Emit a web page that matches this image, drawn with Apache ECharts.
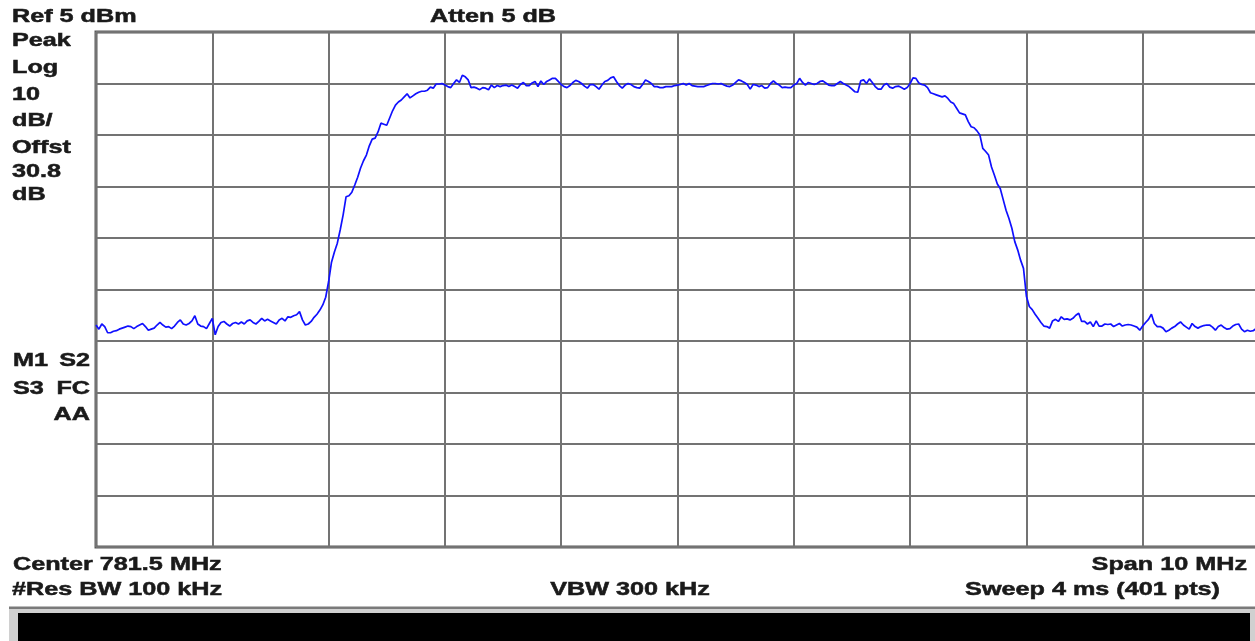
<!DOCTYPE html>
<html>
<head>
<meta charset="utf-8">
<script src="https://cdn.jsdelivr.net/npm/echarts@6/dist/echarts.min.js"></script>
<style>
html,body{margin:0;padding:0;background:#fff;}
#chart{width:1255px;height:641px;}
</style>
</head>
<body>
<div id="chart"></div>
<script>
// ---- instrument settings ----
const refLevelDbm = 5;
const dbPerDiv = 10;
const divisions = 10;
const centerMHz = 781.5;
const spanMHz = 10;
const sweepPoints = 401;

// ---- trace values (dBm), 401 sweep points ----
const floorLeft = [
-51.9,-52.7,-51.7,-52.2,-53.4,-53.4,-53.1,-53.0,-52.7,-52.5,
-52.3,-52.1,-52.2,-52.6,-52.2,-51.9,-51.6,-52.2,-52.9,-52.7,
-52.5,-51.9,-51.4,-51.9,-52.3,-52.2,-52.6,-52.1,-51.4,-50.9,
-51.7,-51.9,-51.6,-51.1,-50.1,-51.7,-52.1,-52.2,-52.6,-51.6,
-50.6,-53.8,-52.2,-51.4,-51.2,-51.7,-52.1,-51.6,-51.4,-51.7,
-51.3,-51.7,-51.1,-50.9,-51.4,-51.7,-51.2,-50.6,-51.1,-50.8,
-51.1,-51.4,-51.7,-50.9,-50.6,-51.1,-50.3,-50.4,-50.1,-49.9,
-49.3,-50.9,-51.9,-51.7,-51.2,-50.4,-49.8,-49.0,-48.0,-46.5
];
const risingEdge = [
-43.5,-39.7,-37.7,-36.0,-33.4,-30.5,-27.0,-26.8,-26.1,-24.7,
-23.2,-21.4,-20.0,-18.9,-17.1,-15.8,-15.6,-14.4,-12.7,-12.9,
-13.1,-11.7,-10.3,-9.2,-8.6,-8.2,-7.6,-7.0,-7.8,-7.4,
-7.0,-6.7,-6.5,-6.5,-6.3,-5.7,-5.9,-5.1,-5.1,-5.0,
-5.3,-5.6,-5.8
];
const topLeft = [
-5.0,-4.3,-4.8,-3.4,-3.7,-4.3,-5.8,-5.7,-5.9,-6.2,
-5.8,-5.9,-6.2,-5.3,-5.8,-5.4,-5.6,-5.4,-5.3,-5.6,
-5.3,-5.6,-5.9,-5.2,-4.8,-5.4,-5.4,-4.9,-4.6,-5.6,
-4.5,-5.2,-4.6,-4.3,-4.0,-4.0,-4.6,-5.2,-5.6,-5.8,
-5.4,-4.8,-4.4,-4.6,-5.0,-5.5,-5.9,-5.2,-5.2,-5.6,
-6.1,-5.3,-4.6,-4.4,-3.9,-3.7,-4.6,-5.4,-5.9,-5.3,
-5.0,-5.2,-5.6,-5.8,-5.9,-5.2,-4.3,-4.6,-5.0,-5.6,
-5.6,-5.8,-5.8,-5.6,-5.6,-5.6,-5.4,-5.3,-5.2,-5.0,
-5.3,-5.0
];
const topRight = [
-5.4,-5.5,-5.6,-5.6,-5.6,-5.4,-5.2,-5.0,-5.0,-5.1,
-5.0,-5.3,-5.5,-5.6,-5.3,-4.8,-4.3,-4.5,-4.8,-5.2,
-6.1,-5.2,-5.3,-5.6,-5.4,-5.9,-5.8,-5.0,-4.5,-5.0,
-5.3,-5.8,-5.7,-5.8,-5.8,-5.3,-5.0,-4.0,-4.8,-5.3,
-4.8,-5.0,-5.2,-5.0,-4.6,-4.5,-4.9,-5.3,-5.4,-5.4,
-5.0,-4.6,-5.0,-5.3,-5.6,-6.1,-6.6,-6.7,-4.5,-4.3,
-5.0,-4.1,-4.8,-5.6,-6.1,-6.1,-5.3,-5.0,-5.7,-5.9,
-5.6,-5.5,-5.8,-6.1,-5.8,-5.0,-3.9,-4.0,-4.9,-5.2,
-5.3,-5.8
];
const fallingEdge = [
-6.8,-7.0,-7.2,-7.4,-7.6,-7.4,-7.9,-8.6,-8.9,-9.8,
-10.7,-10.9,-11.1,-12.4,-13.4,-13.6,-14.2,-15.0,-17.6,-18.2,
-18.9,-21.2,-22.8,-24.5,-25.4,-27.5,-29.6,-31.2,-33.1,-35.7,
-37.3,-39.3,-40.9
];
const floorRight = [
-46.3,-48.3,-48.9,-49.8,-50.6,-51.4,-52.1,-52.2,-52.5,-51.1,
-50.8,-51.2,-50.3,-50.8,-50.7,-50.9,-50.6,-50.0,-49.6,-51.2,
-51.2,-51.7,-51.3,-52.2,-51.1,-52.1,-52.1,-51.7,-51.8,-51.7,
-52.2,-51.9,-51.6,-52.1,-51.9,-51.8,-51.9,-52.1,-52.3,-52.9,
-52.1,-51.4,-50.8,-49.8,-51.6,-52.2,-52.2,-52.5,-53.2,-52.9,
-52.5,-52.2,-51.7,-51.3,-51.9,-52.3,-52.7,-51.6,-52.2,-52.5,
-52.2,-52.0,-51.9,-51.9,-52.3,-52.9,-52.2,-51.9,-52.4,-52.7,
-52.6,-52.1,-51.8,-51.7,-52.7,-53.2,-52.9,-53.1,-53.0,-52.6,
-52.4
];

// ---- annotation texts ----
const headerLeft = ['Ref 5 dBm','Peak','Log','10','dB/','Offst','30.8','dB'];
const headerCenter = 'Atten 5 dB';
const statusLeft = ['M1','S3'];
const statusRight = ['S2','FC','AA'];
const footerLeft = ['Center 781.5 MHz','#Res BW 100 kHz'];
const footerCenter = 'VBW 300 kHz';
const footerRight = ['Span 10 MHz','Sweep 4 ms (401 pts)'];

const trace = [].concat(floorLeft, risingEdge, topLeft, topRight, fallingEdge, floorRight);
const startMHz = centerMHz - spanMHz / 2;
const stepMHz = spanMHz / (sweepPoints - 1);
const seriesData = trace.map((v, i) => [startMHz + i * stepMHz, v]);

const chart = echarts.init(document.getElementById('chart'), null, {renderer: 'canvas'});

const FONT = 'bold 18px "Liberation Sans", Arial, sans-serif';
const TXT = '#1a1a1a';
const SX = 1.4;
function txt(text, x, y, align) {
  return {
    type: 'text', x: x, y: y, scaleX: SX, z: 100,
    style: {
      text: text, font: FONT, fill: TXT, stroke: TXT, lineWidth: 0.5,
      textAlign: align, textVerticalAlign: 'middle',
      align: align, verticalAlign: 'middle'
    }
  };
}
const headerY = [17.5, 41.5, 68.5, 95, 121.5, 148.5, 172, 195.5];
const graphics = [];
headerLeft.forEach((t, i) => graphics.push(txt(t, 12, headerY[i], 'left')));
graphics.push(txt(headerCenter, 430, 17.5, 'left'));
graphics.push(txt(statusLeft[0], 13, 361.5, 'left'));
graphics.push(txt(statusLeft[1], 13, 389, 'left'));
graphics.push(txt(statusRight[0], 90, 361.5, 'right'));
graphics.push(txt(statusRight[1], 90, 389, 'right'));
graphics.push(txt(statusRight[2], 90, 415.5, 'right'));
graphics.push(txt(footerLeft[0], 13, 565, 'left'));
graphics.push(txt(footerLeft[1], 12, 590.5, 'left'));
graphics.push(txt(footerCenter, 630, 590.5, 'center'));
graphics.push(txt(footerRight[0], 1247, 565, 'right'));
graphics.push(txt(footerRight[1], 1220, 590.5, 'right'));
// bottom status bar
graphics.push({type: 'rect', shape: {x: 9, y: 609, width: 1246, height: 32}, style: {fill: '#d0d0d0'}, z: 50});
graphics.push({type: 'rect', shape: {x: 9, y: 606.5, width: 1246, height: 2.5}, style: {fill: '#7a7a7a'}, z: 51});
graphics.push({type: 'rect', shape: {x: 18, y: 613, width: 1232, height: 28}, style: {fill: '#000'}, z: 52});

chart.setOption({
  animation: false,
  backgroundColor: '#ffffff',
  grid: {left: 96, top: 32, width: 1163, height: 515, outerBoundsMode: 'none', containLabel: false,
         show: true, borderColor: '#5a5a5a', borderWidth: 3, backgroundColor: 'transparent'},
  xAxis: {
    type: 'value', min: startMHz, max: startMHz + spanMHz, interval: spanMHz / divisions,
    axisLine: {show: false}, axisTick: {show: false}, axisLabel: {show: false},
    splitLine: {show: true, lineStyle: {color: '#737373', width: 2}}
  },
  yAxis: {
    type: 'value', min: refLevelDbm - dbPerDiv * divisions, max: refLevelDbm, interval: dbPerDiv,
    axisLine: {show: false}, axisTick: {show: false}, axisLabel: {show: false},
    splitLine: {show: true, lineStyle: {color: '#737373', width: 2}}
  },
  series: [{
    type: 'line', data: seriesData, showSymbol: false, symbol: 'none',
    lineStyle: {color: '#1010ff', width: 1.7}, z: 10, silent: true
  }],
  graphic: graphics
});
</script>
</body>
</html>
